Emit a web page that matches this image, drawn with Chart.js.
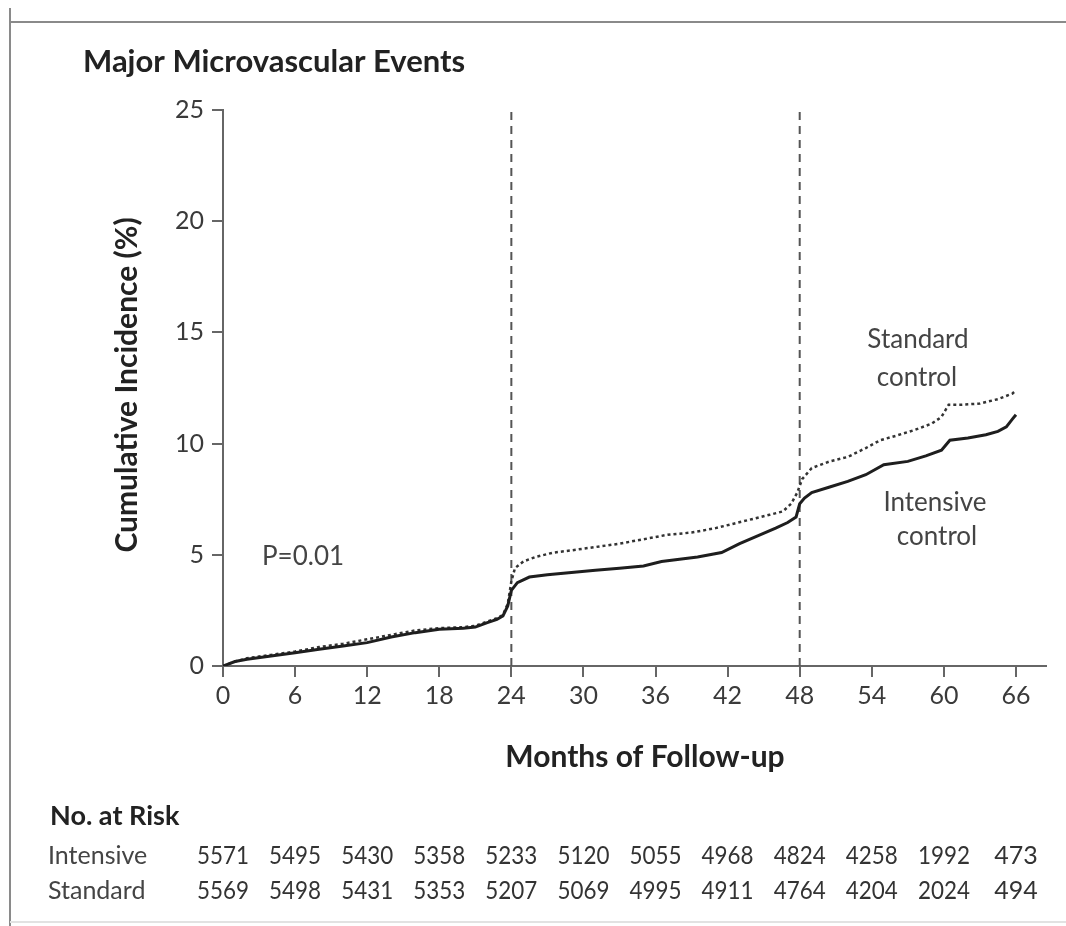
<!DOCTYPE html>
<html lang="en">
<head>
  <meta charset="UTF-8" />
  <title>Major Microvascular Events</title>
  <script src="https://cdn.jsdelivr.net/npm/chart.js"></script>
  <style>
    html, body { margin: 0; padding: 0; background: #fff; }
    #wrap { width: 1066px; height: 926px; }
  </style>
</head>
<body>
  <div id="wrap"><canvas id="kmChart" width="1066" height="926"></canvas></div>

  <script>
    // axis ticks
    const xTicks = [0, 6, 12, 18, 24, 30, 36, 42, 48, 54, 60, 66];
    const yTicks = [0, 5, 10, 15, 20, 25];

    // intensive control curve (months, cumulative %)
    const intensiveMonths = [0, 1, 2, 4, 6, 8, 10, 12, 14, 16, 18, 20, 21, 22, 22.8, 23.3, 23.7, 24, 24.5, 25.5,
      27, 29, 31, 33, 35, 36.5, 38, 39.5, 41.5, 43, 44.5, 46, 47, 47.7, 48, 48.4, 49, 50.5, 52, 53.5,
      55, 57, 58.5, 59.8, 60.5, 62, 63.5, 64.5, 65.2, 65.7, 66];
    const intensivePct = [0, 0.2, 0.3, 0.45, 0.6, 0.75, 0.9, 1.05, 1.3, 1.5, 1.65, 1.7, 1.75, 1.95, 2.1, 2.25, 2.7, 3.4, 3.75, 4.0,
      4.1, 4.2, 4.3, 4.4, 4.5, 4.7, 4.8, 4.9, 5.1, 5.5, 5.85, 6.2, 6.45, 6.7, 7.3, 7.55, 7.8, 8.05, 8.3, 8.6,
      9.05, 9.2, 9.45, 9.7, 10.15, 10.25, 10.4, 10.55, 10.75, 11.1, 11.3];

    // standard control curve
    const standardMonths = [0, 1, 2, 4, 6, 8, 10, 12, 14, 16, 18, 20, 21, 22, 22.8, 23.3, 23.7, 24, 24.3, 25,
      26, 27.5, 29, 31, 33, 35, 37, 39, 41, 42.5, 44, 45.5, 46.6, 47.3, 47.8, 48.2, 49, 50.5, 52, 53.5,
      54.7, 56, 57.5, 59, 59.8, 60.4, 61.5, 63, 64.5, 65.7, 66];
    const standardPct = [0, 0.2, 0.35, 0.5, 0.65, 0.85, 1.0, 1.2, 1.4, 1.6, 1.7, 1.75, 1.8, 2.0, 2.15, 2.3, 2.8, 3.8, 4.4, 4.7,
      4.9, 5.1, 5.2, 5.35, 5.5, 5.7, 5.9, 6.0, 6.2, 6.4, 6.6, 6.8, 6.95, 7.3, 7.8, 8.4, 8.9, 9.2, 9.4, 9.8,
      10.15, 10.35, 10.6, 10.9, 11.2, 11.75, 11.75, 11.8, 12.0, 12.25, 12.4];

    // number at risk table
    const riskMonths = xTicks;
    const intensiveAtRisk = [5571, 5495, 5430, 5358, 5233, 5120, 5055, 4968, 4824, 4258, 1992, 473];
    const standardAtRisk = [5569, 5498, 5431, 5353, 5207, 5069, 4995, 4911, 4764, 4204, 2024, 494];

    // landmark lines
    const landmarks = [24, 48];

    const FONT = "Lato, 'Open Sans', sans-serif";
    const toXY = (xs, ys) => xs.map((x, i) => ({ x: x, y: ys[i] }));

    function drawText(ctx, s, x, y, font, color, align, maxW) {
      ctx.font = font;
      ctx.fillStyle = color;
      ctx.textAlign = align || "left";
      ctx.textBaseline = "middle";
      if (maxW) ctx.fillText(s, x, y, maxW);
      else ctx.fillText(s, x, y);
    }

    const framePlugin = {
      id: "frame",
      beforeDraw(chart) {
        const ctx = chart.ctx;
        ctx.save();
        ctx.fillStyle = "#fff";
        ctx.fillRect(0, 0, chart.width, chart.height);
        ctx.strokeStyle = "#8a8a8a";
        ctx.lineWidth = 2;
        ctx.beginPath();
        ctx.moveTo(9, 22); ctx.lineTo(1066, 22);
        ctx.moveTo(10, 8); ctx.lineTo(10, 926);
        ctx.stroke();
        ctx.strokeStyle = "#e2e2e2";
        ctx.beginPath();
        ctx.moveTo(10, 922); ctx.lineTo(1066, 922);
        ctx.stroke();
        ctx.restore();
      },
      afterDraw(chart) {
        const ctx = chart.ctx;
        const x = chart.scales.x;
        ctx.save();
        drawText(ctx, "Major Microvascular Events", 83, 62, "bold 31px " + FONT, "#222", "left", 385);

        ctx.save();
        ctx.translate(127, 385);
        ctx.rotate(-Math.PI / 2);
        drawText(ctx, "Cumulative Incidence (%)", 0, 0, "bold 30px " + FONT, "#222", "center", 360);
        ctx.restore();

        drawText(ctx, "Months of Follow-up", 645, 757, "bold 30px " + FONT, "#222", "center", 289);
        drawText(ctx, "P=0.01", 262, 557, "26px " + FONT, "#444", "left", 90);
        drawText(ctx, "Standard", 918, 340, "26px " + FONT, "#444", "center");
        drawText(ctx, "control", 917, 378, "26px " + FONT, "#444", "center");
        drawText(ctx, "Intensive", 935, 503, "26px " + FONT, "#444", "center");
        drawText(ctx, "control", 937, 537, "26px " + FONT, "#444", "center");

        // number at risk
        drawText(ctx, "No. at Risk", 50, 816, "bold 27px " + FONT, "#222", "left", 150);
        drawText(ctx, "Intensive", 48, 856, "25px " + FONT, "#444", "left", 116);
        drawText(ctx, "Standard", 48, 891, "25px " + FONT, "#444", "left", 112);
        riskMonths.forEach((m, i) => {
          const px = x.getPixelForValue(m);
          drawText(ctx, String(intensiveAtRisk[i]), px, 856, "25px " + FONT, "#333", "center", 52);
          drawText(ctx, String(standardAtRisk[i]), px, 891, "25px " + FONT, "#333", "center", 52);
        });
        ctx.restore();
      }
    };

    const ctx = document.getElementById("kmChart").getContext("2d");
    new Chart(ctx, {
      type: "line",
      data: {
        datasets: [
          {
            label: "Intensive control",
            data: toXY(intensiveMonths, intensivePct),
            borderColor: "#1e1e1e",
            borderWidth: 3,
            pointRadius: 0,
            tension: 0
          },
          {
            label: "Standard control",
            data: toXY(standardMonths, standardPct),
            borderColor: "#333",
            borderWidth: 2.5,
            borderDash: [3, 3],
            pointRadius: 0,
            tension: 0
          },
          ...landmarks.map(m => ({
            label: "month " + m,
            data: [{ x: m, y: 0 }, { x: m, y: 25 }],
            borderColor: "#555",
            borderWidth: 2,
            borderDash: [8, 6],
            pointRadius: 0
          }))
        ]
      },
      options: {
        responsive: false,
        animation: false,
        devicePixelRatio: 1,
        layout: { padding: { left: 0, top: 110, right: 20, bottom: 220 } },
        plugins: {
          legend: { display: false },
          tooltip: { enabled: false }
        },
        scales: {
          x: {
            type: "linear",
            min: 0,
            max: 68.5,
            afterBuildTicks: s => { s.ticks = xTicks.map(v => ({ value: v })); },
            afterFit: s => { s.height = 40; },
            border: { display: true, color: "#666", width: 2 },
            grid: { drawOnChartArea: false, drawTicks: true, tickLength: 11, color: "#666", lineWidth: 2 },
            ticks: { color: "#3a3a3a", font: { family: FONT, size: 25 }, padding: 4, maxRotation: 0 }
          },
          y: {
            type: "linear",
            min: 0,
            max: 25,
            afterBuildTicks: s => { s.ticks = yTicks.map(v => ({ value: v })); },
            afterFit: s => { s.width = 223; },
            border: { display: true, color: "#666", width: 2 },
            grid: { drawOnChartArea: false, drawTicks: true, tickLength: 11, color: "#666", lineWidth: 2 },
            ticks: { color: "#3a3a3a", font: { family: FONT, size: 25 }, padding: 8 }
          }
        }
      },
      plugins: [framePlugin]
    });
  </script>
</body>
</html>
